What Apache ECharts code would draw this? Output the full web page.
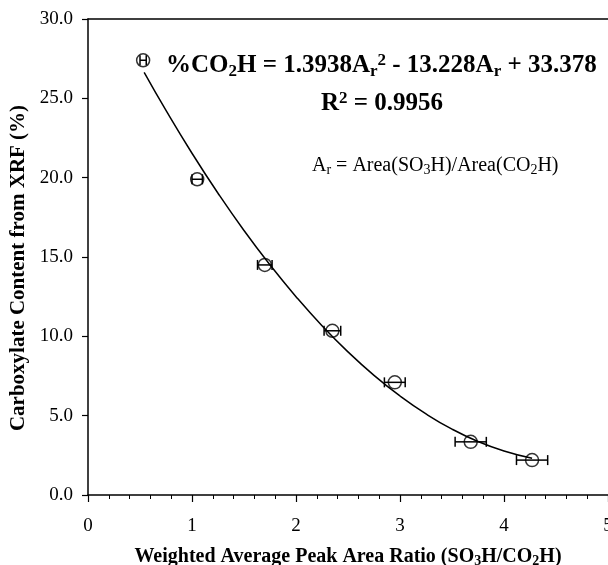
<!DOCTYPE html>
<html>
<head>
<meta charset="utf-8">
<script src="https://cdn.jsdelivr.net/npm/echarts@6/dist/echarts.min.js"></script>
<style>html,body{margin:0;padding:0;background:#fff}#c{width:608px;height:565px}</style>
</head>
<body>
<div id="c"></div>
<script>
// measured points
var ratioX = [0.53, 1.05, 1.70, 2.35, 2.95, 3.68, 4.27];
var carboxY = [27.4, 19.9, 14.5, 10.35, 7.1, 3.35, 2.2];
var ratioErr = [0.03, 0.05, 0.07, 0.08, 0.10, 0.15, 0.15];
// fitted curve
var fitX = [0.54, 0.75, 1.0, 1.25, 1.5, 1.75, 2.0, 2.25, 2.5, 2.75, 3.0, 3.25, 3.5, 3.75, 4.0, 4.27];
var fitY = [26.64, 24.24, 21.54, 19.02, 16.67, 14.50, 12.50, 10.67, 9.02, 7.54, 6.24, 5.11, 4.15, 3.37, 2.77, 2.31];
var xTicks = [0, 1, 2, 3, 4, 5];
var yTicks = [0, 5, 10, 15, 20, 25, 30];

var FONT = '"Liberation Serif", "Times New Roman", serif';
var chart = echarts.init(document.getElementById('c'), null, {renderer: 'canvas'});

var pts = ratioX.map(function (x, i) { return [x, carboxY[i]]; });
var errs = ratioX.map(function (x, i) { return [x - ratioErr[i], x + ratioErr[i], carboxY[i]]; });
var fit = fitX.map(function (x, i) { return [x, fitY[i]]; });

chart.setOption({
  animation: false,
  grid: {left: 88, right: 0, top: 19, bottom: 70, containLabel: false, outerBoundsMode: 'none'},
  xAxis: [{
    type: 'value', min: 0, max: 5, interval: 1,
    name: '{b|Weighted Average Peak Area Ratio (SO}{s|3}{b|H/CO}{s|2}{b|H)}',
    nameLocation: 'middle', nameGap: 50,
    nameTextStyle: {
      rich: {
        b: {fontFamily: FONT, fontWeight: 'bold', fontSize: 20, color: '#000'},
        s: {fontFamily: FONT, fontWeight: 'bold', fontSize: 14, color: '#000', padding: [9, 0, 0, 0]}
      }
    },
    axisLine: {show: true, onZero: false, lineStyle: {color: '#000', width: 1.5}},
    axisTick: {show: true, inside: false, length: 7, lineStyle: {color: '#000', width: 1.2}},
    minorTick: {show: true, splitNumber: 5, length: 4, lineStyle: {color: '#000', width: 1}},
    axisLabel: {margin: 22, color: '#000', fontFamily: FONT, fontSize: 19,
      formatter: function (v) { return xTicks.indexOf(v) >= 0 ? String(v) : ''; }},
    splitLine: {show: false}
  }, {
    type: 'value', min: 0, max: 5, position: 'top', show: true,
    axisLine: {show: true, onZero: false, lineStyle: {color: '#000', width: 1.5}},
    axisTick: {show: false}, axisLabel: {show: false}, splitLine: {show: false}
  }],
  yAxis: {
    type: 'value', min: 0, max: 30, interval: 5,
    name: 'Carboxylate Content from XRF (%)',
    nameLocation: 'middle', nameGap: 57, nameRotate: 90,
    nameTextStyle: {fontFamily: FONT, fontWeight: 'bold', fontSize: 21, color: '#000', padding: [0, 22, 0, 0]},
    axisLine: {show: true, onZero: false, lineStyle: {color: '#000', width: 1.5}},
    axisTick: {show: true, inside: false, length: 6, lineStyle: {color: '#000', width: 1.2}},
    axisLabel: {margin: 15, color: '#000', fontFamily: FONT, fontSize: 19,
      formatter: function (v) { return yTicks.indexOf(v) >= 0 ? v.toFixed(1) : ''; }},
    splitLine: {show: false}
  },
  series: [{
    type: 'line', data: fit, smooth: true, symbol: 'none',
    lineStyle: {color: '#000', width: 1.5}, z: 2
  }, {
    type: 'custom', data: errs, z: 3,
    renderItem: function (params, api) {
      var a = api.coord([api.value(0), api.value(2)]);
      var b = api.coord([api.value(1), api.value(2)]);
      var h = 5;
      var st = {stroke: '#000', lineWidth: 1.5};
      return {type: 'group', children: [
        {type: 'line', shape: {x1: a[0], y1: a[1], x2: b[0], y2: b[1]}, style: st},
        {type: 'line', shape: {x1: a[0], y1: a[1] - h, x2: a[0], y2: a[1] + h}, style: st},
        {type: 'line', shape: {x1: b[0], y1: b[1] - h, x2: b[0], y2: b[1] + h}, style: st}
      ]};
    }
  }, {
    type: 'scatter', data: pts, symbol: 'circle', symbolSize: 13, z: 4,
    itemStyle: {color: 'rgba(255,255,255,0)', borderColor: '#000', borderWidth: 1.5}
  }],
  graphic: [{
    type: 'text', left: 166, top: 52,
    style: {
      text: '{b|%CO}{s|2}{b|H = 1.3938A}{s|r}{p|2}{b| - 13.228A}{s|r}{b| + 33.378}',
      rich: {
        b: {fontFamily: FONT, fontWeight: 'bold', fontSize: 25, fill: '#000'},
        s: {fontFamily: FONT, fontWeight: 'bold', fontSize: 17, fill: '#000', padding: [11, 0, 0, 0]},
        p: {fontFamily: FONT, fontWeight: 'bold', fontSize: 17, fill: '#000', padding: [0, 0, 11, 0]}
      }
    }
  }, {
    type: 'text', left: 321, top: 90,
    style: {
      text: '{b|R}{p|2}{b| = 0.9956}',
      rich: {
        b: {fontFamily: FONT, fontWeight: 'bold', fontSize: 25, fill: '#000'},
        p: {fontFamily: FONT, fontWeight: 'bold', fontSize: 17, fill: '#000', padding: [0, 0, 11, 0]}
      }
    }
  }, {
    type: 'text', left: 312, top: 156,
    style: {
      text: '{b|A}{s|r}{b| = Area(SO}{s|3}{b|H)/Area(CO}{s|2}{b|H)}',
      rich: {
        b: {fontFamily: FONT, fontSize: 20, fill: '#000'},
        s: {fontFamily: FONT, fontSize: 14, fill: '#000', padding: [9, 0, 0, 0]}
      }
    }
  }]
});
</script>
</body>
</html>
